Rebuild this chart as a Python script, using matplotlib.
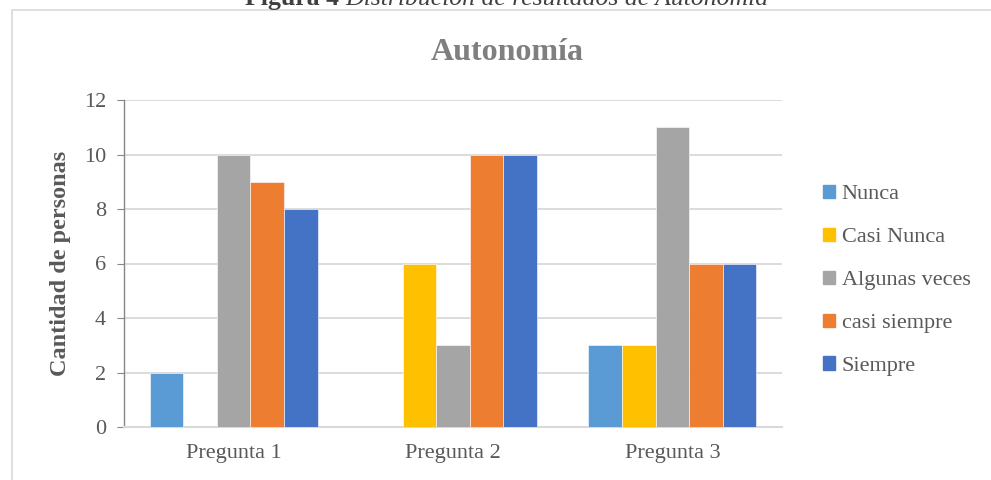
import matplotlib
matplotlib.use('Agg')
import matplotlib.pyplot as plt
import matplotlib.patches as mpatches
import numpy as np

# --- Data ---
preguntas = ['Pregunta 1', 'Pregunta 2', 'Pregunta 3']
series    = ['Nunca', 'Casi Nunca', 'Algunas veces', 'casi siempre', 'Siempre']
nunca         = [2, 0, 3]
casi_nunca    = [0, 6, 3]
algunas_veces = [10, 3, 11]
casi_siempre  = [9, 10, 6]
siempre       = [8, 10, 6]
y_ticks = [0, 2, 4, 6, 8, 10, 12]

# Office palette
COLORS = ['#5B9BD5', '#FFC000', '#A5A5A5', '#ED7D31', '#4472C4']
TEXT   = '#595959'
GRID   = '#D9D9D9'

plt.rcParams['font.family'] = ['Liberation Serif', 'DejaVu Serif']

W, H = 991, 480
fig = plt.figure(figsize=(W / 100, H / 100), dpi=100)
fig.patch.set_facecolor('white')

# Outer chart frame (runs past the right/bottom edges)
fig.patches.append(mpatches.Rectangle(
    (12 / W, -0.1), 1.2, 1.1 - 9.5 / H,
    transform=fig.transFigure, facecolor='none', edgecolor=GRID, linewidth=1.2))

# Figure caption, partly cut off at the top
fig.text(339 / W, 1 - 5 / H, 'Figura 4', ha='right', va='baseline',
         fontsize=18.5, fontweight='bold', color='#404040')
fig.text(345 / W, 1 - 5 / H, 'Distribución de resultados de Autonomía',
         ha='left', va='baseline', fontsize=18.5, style='italic', color='#404040')

ax = fig.add_axes([124 / W, 1 - 427 / H, (782 - 124) / W, (427 - 100) / H])

values = [nunca, casi_nunca, algunas_veces, casi_siempre, siempre]
x = np.arange(len(preguntas))
bw = 0.153
for i, (name, vals) in enumerate(zip(series, values)):
    ax.bar(x + (i - 2) * bw, vals, width=bw, color=COLORS[i], label=name,
           edgecolor='white', linewidth=0.4, zorder=3)

ax.set_xlim(-0.5, 2.5)
ax.set_ylim(0, 12)
ax.set_yticks(y_ticks)
ax.set_xticks(x)
ax.set_xticklabels(preguntas)
ax.yaxis.grid(True, color=GRID, linewidth=1.3, zorder=0)
ax.set_axisbelow(True)

for side in ['top', 'right']:
    ax.spines[side].set_visible(False)
ax.spines['left'].set_color('#868686')
ax.spines['left'].set_linewidth(1.0)
ax.spines['bottom'].set_color(GRID)
ax.spines['bottom'].set_linewidth(1.5)

ax.tick_params(axis='y', labelsize=16, colors=TEXT, length=5, color='#868686',
               pad=8)
ax.tick_params(axis='y', labelcolor=TEXT)
ax.tick_params(axis='x', labelsize=16, labelcolor=TEXT, length=0, pad=12)

ax.set_ylabel('Cantidad de personas', fontsize=17.5, fontweight='bold',
              color=TEXT, labelpad=9)

fig.text(507 / W, 1 - 60 / H, 'Autonomía', ha='center', va='baseline',
         fontsize=23, fontweight='bold', color='#7F7F7F')

# Legend to the right of the plot
handles = [mpatches.Patch(color=c, label=s) for c, s in zip(COLORS, series)]
fig.legend(handles=handles, loc='upper left',
           bbox_to_anchor=(814 / W, 1 - 176 / H), frameon=False,
           fontsize=16, labelcolor=TEXT, handlelength=0.55,
           handleheight=0.55, handletextpad=0.3, labelspacing=1.05,
           borderaxespad=0)

fig.savefig('out.png', dpi=100, facecolor='white')
